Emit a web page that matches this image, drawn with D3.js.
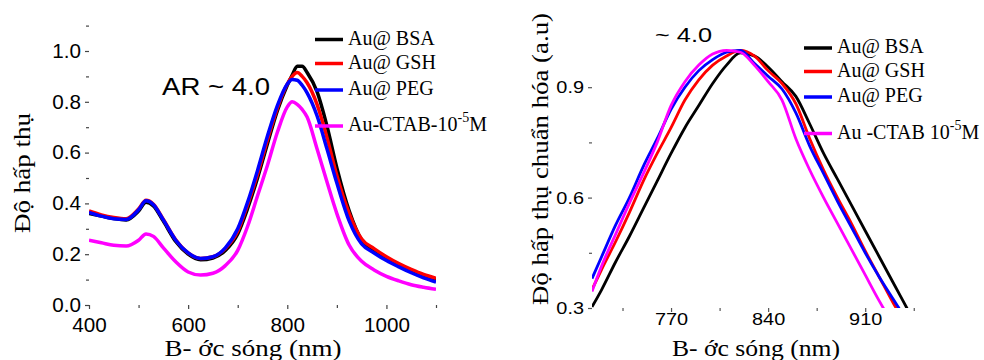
<!DOCTYPE html>
<html>
<head>
<meta charset="utf-8">
<script src="https://cdn.jsdelivr.net/npm/d3@7"></script>
<style>
  body { margin: 0; background: #fff; }
  svg { display: block; }
</style>
</head>
<body>
<div id="chart"></div>
<script>
// left panel: absorbance spectra
const wlA = [400, 425, 450, 475, 500, 515, 530, 550, 575, 600, 625, 650, 675, 700, 720, 740, 760, 780, 800, 810, 820, 830, 840, 860, 880, 900, 925, 950, 975, 1000, 1025, 1050, 1075, 1100];
const bsaA = [0.36, 0.35, 0.34, 0.335, 0.37, 0.405, 0.39, 0.33, 0.25, 0.20, 0.178, 0.185, 0.215, 0.28, 0.38, 0.50, 0.635, 0.765, 0.865, 0.905, 0.94, 0.94, 0.915, 0.84, 0.705, 0.54, 0.37, 0.256, 0.215, 0.182, 0.157, 0.135, 0.116, 0.10];
const gshA = [0.37, 0.355, 0.345, 0.34, 0.378, 0.412, 0.397, 0.337, 0.257, 0.205, 0.183, 0.19, 0.222, 0.29, 0.395, 0.515, 0.65, 0.775, 0.87, 0.90, 0.915, 0.90, 0.875, 0.79, 0.66, 0.51, 0.36, 0.26, 0.222, 0.19, 0.163, 0.14, 0.12, 0.105];
const pegA = [0.365, 0.35, 0.34, 0.337, 0.375, 0.41, 0.395, 0.335, 0.255, 0.205, 0.183, 0.19, 0.225, 0.30, 0.405, 0.53, 0.665, 0.785, 0.87, 0.888, 0.885, 0.865, 0.835, 0.745, 0.615, 0.48, 0.33, 0.24, 0.205, 0.175, 0.15, 0.127, 0.107, 0.09];
const ctabA = [0.255, 0.245, 0.235, 0.232, 0.255, 0.28, 0.27, 0.225, 0.17, 0.13, 0.118, 0.125, 0.155, 0.215, 0.31, 0.43, 0.55, 0.68, 0.78, 0.80, 0.79, 0.77, 0.74, 0.615, 0.485, 0.36, 0.235, 0.172, 0.138, 0.113, 0.095, 0.08, 0.07, 0.062];

// right panel: normalised spectra
const wlB = [713, 720, 730, 740, 750, 760, 770, 780, 790, 800, 810, 820, 830, 840, 850, 860, 870, 880, 890, 900, 910, 920, 930, 940, 950];
const bsaB = [0.303, 0.35, 0.425, 0.495, 0.57, 0.645, 0.72, 0.79, 0.85, 0.91, 0.96, 0.993, 0.985, 0.955, 0.915, 0.875, 0.80, 0.72, 0.65, 0.58, 0.51, 0.44, 0.37, 0.30, 0.23];
const gshB = [0.35, 0.405, 0.48, 0.56, 0.645, 0.72, 0.79, 0.865, 0.92, 0.96, 0.985, 1.0, 0.985, 0.945, 0.91, 0.855, 0.76, 0.675, 0.60, 0.53, 0.455, 0.385, 0.315, 0.25, 0.185];
const pegB = [0.38, 0.44, 0.525, 0.60, 0.685, 0.76, 0.84, 0.90, 0.945, 0.975, 0.995, 1.0, 0.965, 0.93, 0.895, 0.83, 0.74, 0.665, 0.59, 0.52, 0.45, 0.385, 0.325, 0.265, 0.20];
const ctabB = [0.345, 0.415, 0.50, 0.585, 0.665, 0.75, 0.85, 0.915, 0.96, 0.99, 1.0, 0.995, 0.96, 0.915, 0.865, 0.76, 0.675, 0.60, 0.53, 0.46, 0.39, 0.32, 0.255, 0.19, 0.13];

const colors = ['#000000', '#ff0000', '#0000ff', '#ff00ff'];
const namesA = ['Au@ BSA', 'Au@ GSH', 'Au@ PEG', 'Au-CTAB-10'];
const namesB = ['Au@ BSA', 'Au@ GSH', 'Au@ PEG', 'Au -CTAB 10'];

const xTicksA = [400, 600, 800, 1000];
const xMinorA = [500, 700, 900, 1100];
const yTicksA = [0, 0.2, 0.4, 0.6, 0.8, 1.0];
const yMinorA = [0.1, 0.3, 0.5, 0.7, 0.9, 1.1];
const xTicksB = [770, 840, 910];
const xMinorB = [735, 805, 875, 945];
const yTicksB = [0.3, 0.6, 0.9];
const yMinorB = [0.45, 0.75];

const svg = d3.select('#chart').append('svg').attr('width', 984).attr('height', 360);
const sans = 'Arial, "Liberation Sans", sans-serif';
const serif = '"Times New Roman", "Liberation Serif", serif';

// stretch text horizontally the way the source image is
function stretch(sel, k) {
  sel.each(function () {
    const w = this.getComputedTextLength();
    d3.select(this).attr('textLength', w * k).attr('lengthAdjust', 'spacingAndGlyphs');
  });
}

function drawPanel(o) {
  const x = d3.scaleLinear().domain(o.xDomain).range(o.xRange);
  const y = d3.scaleLinear().domain(o.yDomain).range(o.yRange);
  const g = svg.append('g');

  g.append('clipPath').attr('id', o.id + 'clip')
    .append('rect')
    .attr('x', o.xRange[0]).attr('y', o.yRange[1])
    .attr('width', o.xRange[1] - o.xRange[0]).attr('height', o.yRange[0] - o.yRange[1]);

  const line = d3.line()
    .x((d) => x(d[0]))
    .y((d) => y(d[1]))
    .curve(d3.curveMonotoneX);

  g.append('g').attr('clip-path', 'url(#' + o.id + 'clip)')
    .selectAll('path')
    .data(o.series)
    .enter()
    .append('path')
    .attr('d', (s) => line(o.wl.map((w, i) => [w, s[i]])))
    .attr('fill', 'none')
    .attr('stroke', (s, i) => colors[i])
    .attr('stroke-width', o.lineW)
    .attr('stroke-linejoin', 'round');

  // axes
  const xAx = g.append('g').attr('transform', 'translate(0,' + o.yRange[0] + ')');
  xAx.call(d3.axisBottom(x).tickValues(o.xTicks).tickSize(4).tickPadding(5).tickFormat(d3.format('d')));
  xAx.append('g').call(d3.axisBottom(x).tickValues(o.xMinor).tickSize(3).tickFormat(''));
  const yAx = g.append('g').attr('transform', 'translate(' + o.xRange[0] + ',0)');
  yAx.call(d3.axisLeft(y).tickValues(o.yTicks).tickSize(4).tickPadding(4).tickFormat(d3.format('.1f')));
  yAx.append('g').call(d3.axisLeft(y).tickValues(o.yMinor).tickSize(3).tickFormat(''));

  [xAx, yAx].forEach((a) => {
    a.selectAll('.domain').attr('stroke', o.axisColor).attr('stroke-width', 1.5);
    a.selectAll('g g .domain').remove();
    a.selectAll('line').attr('stroke', o.axisColor).attr('stroke-width', 1.2);
    a.selectAll('text').attr('fill', '#000').style('font-family', sans).style('font-size', o.tickFont + 'px');
  });
  // plain axis lines without end caps
  xAx.select('.domain').attr('d', 'M' + o.xRange[0] + ',0H' + o.xRange[1]);
  yAx.select('.domain').attr('d', 'M0,' + o.yRange[0] + 'V' + o.yRange[1]);
  xAx.selectAll('text').attr('dy', null).attr('y', o.xTickY);
  if (o.tickStretch !== 1) {
    stretch(xAx.selectAll('text'), o.tickStretch);
    stretch(yAx.selectAll('text'), o.tickStretch);
  }

  // axis titles
  g.append('text')
    .attr('x', o.xTitle[0]).attr('y', o.xTitle[1])
    .attr('text-anchor', 'middle')
    .style('font-family', serif).style('font-size', '23px')
    .attr('textLength', o.xTitle[2]).attr('lengthAdjust', 'spacingAndGlyphs')
    .text('B- ớc sóng (nm)');
  g.append('text')
    .attr('transform', 'translate(' + o.yTitle[0] + ',' + o.yTitle[1] + ') rotate(-90)')
    .attr('text-anchor', 'middle')
    .style('font-family', serif).style('font-size', '24px')
    .attr('textLength', o.yTitle[2]).attr('lengthAdjust', 'spacingAndGlyphs')
    .text(o.yLabel);

  // legend
  const leg = g.append('g');
  o.names.forEach((n, i) => {
    const ly = o.legY[i];
    leg.append('line')
      .attr('x1', o.legX).attr('x2', o.legX + 28)
      .attr('y1', ly).attr('y2', ly)
      .attr('stroke', colors[i]).attr('stroke-width', 3.5);
    const t = leg.append('text')
      .attr('x', o.legX + 33).attr('y', ly + 5)
      .style('font-family', serif).style('font-size', '20px');
    t.append('tspan').text(n);
    if (i === 3) {
      t.append('tspan').attr('dy', -9).style('font-size', '14px').text('-5');
      t.append('tspan').attr('dy', 9).text('M');
    }
  });
  return g;
}

drawPanel({
  id: 'a',
  xDomain: [400, 1100], xRange: [89, 436],
  yDomain: [0, 1.1], yRange: [305, 25.6],
  wl: wlA, series: [bsaA, gshA, pegA, ctabA], lineW: 3.5,
  xTicks: xTicksA, xMinor: xMinorA, yTicks: yTicksA, yMinor: yMinorA,
  axisColor: '#444', tickFont: 19.5, tickStretch: 1.06, xTickY: 27,
  xTitle: [253, 356, 177], yTitle: [30, 173, 120], yLabel: 'Độ hấp thụ',
  names: namesA, legX: 315, legY: [39.5, 63.5, 90, 126]
});

drawPanel({
  id: 'b',
  xDomain: [713, 949.5], xRange: [592, 920],
  yDomain: [0.3, 1.0228], yRange: [308, 42],
  wl: wlB, series: [bsaB, gshB, pegB, ctabB], lineW: 2.8,
  xTicks: xTicksB, xMinor: xMinorB, yTicks: yTicksB, yMinor: yMinorB,
  axisColor: '#555', tickFont: 17, tickStretch: 1.17, xTickY: 17,
  xTitle: [756, 356, 168], yTitle: [548, 159, 292], yLabel: 'Độ hấp thụ chuẩn hóa (a.u)',
  names: namesB, legX: 804, legY: [48, 71.5, 97, 133.5]
});

// annotations
svg.append('text')
  .attr('x', 162).attr('y', 95)
  .style('font-family', sans).style('font-size', '24px')
  .attr('textLength', 108).attr('lengthAdjust', 'spacingAndGlyphs')
  .text('AR ~ 4.0');

svg.append('clipPath').attr('id', 'aclip')
  .append('rect').attr('x', 596).attr('y', 31).attr('width', 12).attr('height', 12);
svg.append('text')
  .attr('x', 600).attr('y', 42)
  .attr('clip-path', 'url(#aclip)')
  .style('font-family', sans).style('font-size', '21px')
  .text('A');
svg.append('text')
  .attr('x', 655).attr('y', 42)
  .style('font-family', sans).style('font-size', '21px')
  .attr('textLength', 57).attr('lengthAdjust', 'spacingAndGlyphs')
  .text('~ 4.0');
</script>
</body>
</html>
